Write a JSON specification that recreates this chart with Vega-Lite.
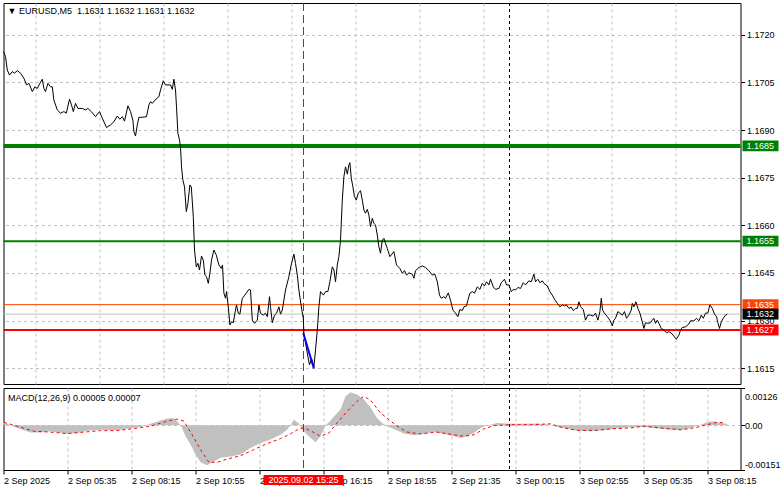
{
"$schema": "https://vega.github.io/schema/vega-lite/v6.json",
"background": "white",
"padding": {"left": 0.5, "top": 2, "right": 0, "bottom": 0},
"spacing": 2,
"config": {
  "view": {"stroke": "black", "strokeWidth": 1},
  "font": "Liberation Sans",
  "axis": {"labelFont": "Liberation Sans", "labelFontSize": 9, "labelColor": "black", "labelFontWeight": "normal", "tickColor": "black", "gridColor": "#C0C0C0", "gridDash": [3, 3], "gridWidth": 1, "gridOpacity": 1, "domain": false, "title": null}
},
"datasets": {
  "price": [
{"i":0,"p":1.17147},{"i":1,"p":1.17131},{"i":1.9,"p":1.17089},{"i":3,"p":1.17073},{"i":4.4,"p":1.17084},{"i":5.5,"p":1.17079},{"i":6.9,"p":1.17087},{"i":8.5,"p":1.17079},{"i":10.2,"p":1.17063},{"i":11.5,"p":1.17042},{"i":12.7,"p":1.17047},{"i":14.4,"p":1.17021},{"i":15.7,"p":1.17036},{"i":16.9,"p":1.17031},{"i":18.2,"p":1.17047},{"i":19.4,"p":1.1706},{"i":20.2,"p":1.17031},{"i":21,"p":1.17021},{"i":22.2,"p":1.17047},{"i":23.5,"p":1.17036},{"i":24.4,"p":1.17036},{"i":25.2,"p":1.16994},{"i":26.9,"p":1.16963},{"i":28.5,"p":1.16953},{"i":30.2,"p":1.16958},{"i":31.4,"p":1.16953},{"i":33,"p":1.16997},{"i":34,"p":1.16979},{"i":34.9,"p":1.16958},{"i":36,"p":1.16984},{"i":37.2,"p":1.16968},{"i":39.4,"p":1.16968},{"i":41,"p":1.16963},{"i":42.2,"p":1.16968},{"i":43.9,"p":1.16958},{"i":46,"p":1.16942},{"i":48,"p":1.16958},{"i":49.4,"p":1.16937},{"i":51.5,"p":1.16908},{"i":53.5,"p":1.16916},{"i":55.2,"p":1.16926},{"i":56.9,"p":1.16944},{"i":58.2,"p":1.16934},{"i":59.4,"p":1.16942},{"i":60.5,"p":1.16928},{"i":62.2,"p":1.16976},{"i":63.5,"p":1.16958},{"i":64.7,"p":1.16931},{"i":65.2,"p":1.16895},{"i":66,"p":1.16881},{"i":66.9,"p":1.16916},{"i":67.7,"p":1.1694},{"i":69.4,"p":1.1694},{"i":71.5,"p":1.16942},{"i":72.7,"p":1.16979},{"i":73.5,"p":1.16989},{"i":74.4,"p":1.16984},{"i":75.7,"p":1.16994},{"i":77.7,"p":1.17005},{"i":78.5,"p":1.17026},{"i":79.9,"p":1.17055},{"i":81,"p":1.17042},{"i":83.5,"p":1.17042},{"i":84.4,"p":1.17028},{"i":85.2,"p":1.1706},{"i":86,"p":1.17026},{"i":86.5,"p":1.16973},{"i":87.2,"p":1.1689},{"i":88,"p":1.16868},{"i":88.5,"p":1.16847},{"i":89,"p":1.16784},{"i":89.7,"p":1.16742},{"i":90.5,"p":1.16721},{"i":91.4,"p":1.16643},{"i":92.2,"p":1.16669},{"i":93.2,"p":1.16727},{"i":93.9,"p":1.16721},{"i":94.9,"p":1.16627},{"i":95.5,"p":1.16522},{"i":96.4,"p":1.16469},{"i":97.2,"p":1.1648},{"i":98,"p":1.16459},{"i":99,"p":1.16503},{"i":99.9,"p":1.1649},{"i":100.7,"p":1.16443},{"i":101.5,"p":1.16438},{"i":102.4,"p":1.16417},{"i":103.2,"p":1.16449},{"i":104,"p":1.1649},{"i":105.2,"p":1.16522},{"i":106.4,"p":1.16506},{"i":107.7,"p":1.16475},{"i":108.9,"p":1.16464},{"i":109.5,"p":1.16475},{"i":110.2,"p":1.16386},{"i":111,"p":1.1637},{"i":111.5,"p":1.16391},{"i":112.4,"p":1.16343},{"i":113.2,"p":1.16286},{"i":114,"p":1.16296},{"i":114.9,"p":1.16293},{"i":115.7,"p":1.16323},{"i":116.5,"p":1.16349},{"i":117.4,"p":1.16323},{"i":118.2,"p":1.1632},{"i":119.4,"p":1.1637},{"i":120.7,"p":1.1638},{"i":122.7,"p":1.16398},{"i":123.5,"p":1.16396},{"i":124.4,"p":1.16301},{"i":125.5,"p":1.16291},{"i":126.9,"p":1.16301},{"i":127.7,"p":1.16349},{"i":128.5,"p":1.16323},{"i":129.9,"p":1.16317},{"i":131,"p":1.16323},{"i":131.9,"p":1.16312},{"i":133,"p":1.16375},{"i":133.5,"p":1.16343},{"i":134.4,"p":1.16293},{"i":135.5,"p":1.16317},{"i":136.5,"p":1.16323},{"i":137.7,"p":1.16343},{"i":138.5,"p":1.1632},{"i":139.4,"p":1.16333},{"i":141,"p":1.16396},{"i":142.7,"p":1.16438},{"i":144,"p":1.1648},{"i":145.2,"p":1.16509},{"i":146,"p":1.1648},{"i":146.9,"p":1.16443},{"i":147.7,"p":1.16396},{"i":148.9,"p":1.16343},{"i":149.9,"p":1.16307},{"i":150.2,"p":1.1626},{"i":152.2,"p":1.16186},{"i":153,"p":1.1616},{"i":154,"p":1.16181},{"i":155.2,"p":1.16154},{"i":156,"p":1.16207},{"i":156.9,"p":1.1627},{"i":157.7,"p":1.16343},{"i":158.5,"p":1.16391},{"i":159.9,"p":1.1638},{"i":161,"p":1.16391},{"i":162.2,"p":1.16391},{"i":163.2,"p":1.16422},{"i":164.4,"p":1.16469},{"i":165.2,"p":1.16459},{"i":166,"p":1.16422},{"i":166.9,"p":1.16475},{"i":167.7,"p":1.16501},{"i":168.5,"p":1.16553},{"i":169.4,"p":1.16679},{"i":170.2,"p":1.16753},{"i":171,"p":1.16784},{"i":171.9,"p":1.16761},{"i":172.7,"p":1.1679},{"i":173.2,"p":1.16797},{"i":173.9,"p":1.16748},{"i":174.7,"p":1.16721},{"i":175.5,"p":1.1669},{"i":176.4,"p":1.16679},{"i":177.4,"p":1.16701},{"i":178.5,"p":1.16709},{"i":179.4,"p":1.16679},{"i":180.2,"p":1.16648},{"i":181,"p":1.16638},{"i":181.9,"p":1.1665},{"i":182.7,"p":1.16632},{"i":183.5,"p":1.16595},{"i":184.4,"p":1.16622},{"i":185.2,"p":1.16606},{"i":186,"p":1.16601},{"i":186.9,"p":1.16569},{"i":187.7,"p":1.16532},{"i":188.5,"p":1.16512},{"i":189.4,"p":1.16553},{"i":190.2,"p":1.16559},{"i":191,"p":1.16543},{"i":191.9,"p":1.16527},{"i":193.2,"p":1.16501},{"i":195.2,"p":1.16517},{"i":196.5,"p":1.16475},{"i":198.2,"p":1.16464},{"i":199.4,"p":1.16449},{"i":200.5,"p":1.16457},{"i":201.5,"p":1.16443},{"i":202.7,"p":1.1645},{"i":204.4,"p":1.16446},{"i":205.2,"p":1.16433},{"i":206,"p":1.16457},{"i":207.7,"p":1.16467},{"i":209.4,"p":1.16472},{"i":211,"p":1.16467},{"i":212.7,"p":1.16457},{"i":214.4,"p":1.16443},{"i":215.7,"p":1.16446},{"i":216.9,"p":1.16422},{"i":218,"p":1.1638},{"i":218.9,"p":1.1637},{"i":220.2,"p":1.16375},{"i":221,"p":1.1637},{"i":222.4,"p":1.16387},{"i":223.5,"p":1.16364},{"i":224.7,"p":1.16333},{"i":226,"p":1.16323},{"i":227.2,"p":1.16312},{"i":228.2,"p":1.16335},{"i":229.4,"p":1.16331},{"i":230.2,"p":1.16343},{"i":231.5,"p":1.16346},{"i":232.2,"p":1.16364},{"i":233.2,"p":1.16386},{"i":234.4,"p":1.16391},{"i":235.5,"p":1.16386},{"i":236.9,"p":1.16406},{"i":238.2,"p":1.16398},{"i":239.4,"p":1.16417},{"i":240.5,"p":1.16409},{"i":241.5,"p":1.16422},{"i":242.7,"p":1.16412},{"i":243.5,"p":1.1643},{"i":244.9,"p":1.16406},{"i":246,"p":1.16398},{"i":247.7,"p":1.16401},{"i":248.9,"p":1.16419},{"i":250.5,"p":1.1643},{"i":251.5,"p":1.16412},{"i":252.7,"p":1.16412},{"i":253.9,"p":1.16391},{"i":254.9,"p":1.16398},{"i":256,"p":1.16396},{"i":257.2,"p":1.16404},{"i":258.5,"p":1.16401},{"i":259.9,"p":1.16419},{"i":261,"p":1.16412},{"i":262.7,"p":1.16425},{"i":263.9,"p":1.16422},{"i":265.2,"p":1.16446},{"i":266,"p":1.16422},{"i":267.2,"p":1.1643},{"i":268.2,"p":1.16419},{"i":269.4,"p":1.16425},{"i":270.2,"p":1.16417},{"i":271.9,"p":1.16409},{"i":273.2,"p":1.16391},{"i":274.4,"p":1.1638},{"i":275.5,"p":1.16367},{"i":276.9,"p":1.16354},{"i":278.2,"p":1.16343},{"i":279.4,"p":1.16349},{"i":280.5,"p":1.16346},{"i":281.5,"p":1.16349},{"i":282.7,"p":1.16338},{"i":283.9,"p":1.16342},{"i":284.9,"p":1.16331},{"i":286,"p":1.16338},{"i":286.9,"p":1.16338},{"i":287.7,"p":1.16359},{"i":288.5,"p":1.16343},{"i":289.9,"p":1.16335},{"i":291,"p":1.16301},{"i":292.2,"p":1.16317},{"i":293.5,"p":1.16317},{"i":294.9,"p":1.16314},{"i":296,"p":1.16323},{"i":297.2,"p":1.16301},{"i":298.2,"p":1.16328},{"i":298.9,"p":1.1637},{"i":299.5,"p":1.16333},{"i":300.5,"p":1.16323},{"i":301.9,"p":1.16312},{"i":303.2,"p":1.16301},{"i":304.4,"p":1.16283},{"i":305.2,"p":1.16301},{"i":306,"p":1.16307},{"i":307.2,"p":1.16328},{"i":308.2,"p":1.16323},{"i":309.4,"p":1.16317},{"i":310.5,"p":1.16328},{"i":311.5,"p":1.16307},{"i":312.7,"p":1.16317},{"i":313.9,"p":1.16333},{"i":314.4,"p":1.16354},{"i":315.2,"p":1.16343},{"i":316.2,"p":1.16359},{"i":317.2,"p":1.16338},{"i":318.2,"p":1.16323},{"i":319.4,"p":1.16296},{"i":320.2,"p":1.16275},{"i":321,"p":1.16293},{"i":322.2,"p":1.16291},{"i":323.5,"p":1.16293},{"i":324.4,"p":1.16301},{"i":325.2,"p":1.16307},{"i":326,"p":1.16291},{"i":326.9,"p":1.16301},{"i":327.7,"p":1.16291},{"i":328.9,"p":1.16275},{"i":330.2,"p":1.1627},{"i":331.5,"p":1.16261},{"i":332.7,"p":1.16265},{"i":333.9,"p":1.1626},{"i":335.2,"p":1.16251},{"i":336.4,"p":1.16241},{"i":337.7,"p":1.16254},{"i":338.5,"p":1.1627},{"i":339.4,"p":1.16278},{"i":341,"p":1.1628},{"i":342.7,"p":1.16289},{"i":343.5,"p":1.16299},{"i":345.2,"p":1.16299},{"i":346.5,"p":1.16307},{"i":347.7,"p":1.16299},{"i":348.9,"p":1.16317},{"i":349.9,"p":1.16307},{"i":351,"p":1.16323},{"i":352.2,"p":1.16324},{"i":353.2,"p":1.16349},{"i":354.4,"p":1.16338},{"i":355.5,"p":1.1632},{"i":356.5,"p":1.16312},{"i":357.2,"p":1.16293},{"i":358,"p":1.16275},{"i":358.9,"p":1.16296},{"i":359.9,"p":1.16307},{"i":361,"p":1.16317},{"i":361.9,"p":1.1632}
  ],
  "trend": [{"i":149.9,"p":1.1626},{"i":155.2,"p":1.16149}],
  "levels": [
    {"name":"buy2","level":1.1685},
    {"name":"buy1","level":1.1655},
    {"name":"sell1","level":1.1635},
    {"name":"bid","level":1.1632},
    {"name":"sell2","level":1.1627}
  ],
  "markers": [
    {"name":"cursor","i":150,"label":"2025.09.02 15:25"},
    {"name":"day","i":253,"label":"3 Sep 00:00"}
  ],
  "headers": [
    {"panel":"price","i":2,"v":1.17275,"text":"▼ EURUSD,M5\u00a0 1.1631 1.1632 1.1631 1.1632"},
    {"panel":"macd","i":2.2,"v":0.00093,"text":"MACD(12,26,9) 0.00005 0.00007"}
  ],
  "macd": [
{"i":0,"m":0.0001},{"i":3.5,"m":0},{"i":6.8,"m":-0.00009},{"i":13.5,"m":-0.00024},{"i":18.5,"m":-0.00024},{"i":23.5,"m":-0.0002},{"i":31.8,"m":-0.00029},{"i":36.8,"m":-0.00026},{"i":41.8,"m":-0.00018},{"i":48.5,"m":-0.00015},{"i":56.8,"m":-0.00017},{"i":61.8,"m":-0.00012},{"i":68.5,"m":-0.00006},{"i":73.5,"m":0.00005},{"i":78.5,"m":0.00016},{"i":81.8,"m":0.00023},{"i":85.2,"m":0.00024},{"i":87.7,"m":0.00008},{"i":89.3,"m":-0.00009},{"i":91,"m":-0.00037},{"i":93.5,"m":-0.00065},{"i":96,"m":-0.00099},{"i":98.5,"m":-0.00125},{"i":101.8,"m":-0.00135},{"i":105.2,"m":-0.00122},{"i":108.5,"m":-0.0011},{"i":113.5,"m":-0.00105},{"i":118.5,"m":-0.00099},{"i":123.5,"m":-0.00077},{"i":128.5,"m":-0.0006},{"i":133.5,"m":-0.00048},{"i":138.5,"m":-0.00032},{"i":141.8,"m":-0.00015},{"i":143.5,"m":0},{"i":145.2,"m":0.00019},{"i":147.7,"m":0.00006},{"i":149.3,"m":-0.00015},{"i":152.7,"m":-0.00037},{"i":156,"m":-0.00057},{"i":158.5,"m":-0.00037},{"i":161,"m":0},{"i":162.7,"m":0.0001},{"i":165.2,"m":0.0003},{"i":168.5,"m":0.00053},{"i":171,"m":0.00098},{"i":173.5,"m":0.00112},{"i":176.8,"m":0.00104},{"i":180.2,"m":0.00087},{"i":183.5,"m":0.0006},{"i":186.8,"m":0.00025},{"i":189.3,"m":0.00008},{"i":191.8,"m":-0.00003},{"i":196,"m":-0.00015},{"i":200.2,"m":-0.00028},{"i":205.2,"m":-0.00034},{"i":210.2,"m":-0.00029},{"i":215.2,"m":-0.00023},{"i":220.2,"m":-0.00029},{"i":225.2,"m":-0.00037},{"i":228.5,"m":-0.00043},{"i":231.8,"m":-0.00037},{"i":235.2,"m":-0.00026},{"i":238.5,"m":-0.00009},{"i":241.8,"m":-0.00001},{"i":246.8,"m":0.00008},{"i":253.5,"m":0.00005},{"i":260.2,"m":0.00005},{"i":266.8,"m":0.00006},{"i":273.5,"m":0.00002},{"i":276.8,"m":-0.00006},{"i":281.8,"m":-0.00012},{"i":286.8,"m":-0.00018},{"i":293.5,"m":-0.0002},{"i":300.2,"m":-0.00017},{"i":306.8,"m":-0.00011},{"i":313.5,"m":-0.00007},{"i":320.2,"m":-0.00006},{"i":326.8,"m":-0.00011},{"i":333.5,"m":-0.00015},{"i":338.5,"m":-0.00017},{"i":343.5,"m":-0.00009},{"i":348.5,"m":0.00002},{"i":351.8,"m":0.0001},{"i":355.2,"m":0.00014},{"i":358.5,"m":0.00008},{"i":361.8,"m":0.00005}
  ],
  "signal": [
{"i":0.2,"s":0.0001},{"i":6.8,"s":-0.00003},{"i":15.2,"s":-0.0002},{"i":23.5,"s":-0.00023},{"i":31.8,"s":-0.00028},{"i":40.2,"s":-0.00023},{"i":48.5,"s":-0.00018},{"i":56.8,"s":-0.00018},{"i":65.2,"s":-0.00011},{"i":73.5,"s":-0.00003},{"i":81.8,"s":0.00014},{"i":86.8,"s":0.00021},{"i":90.2,"s":0.00014},{"i":94.3,"s":-0.00032},{"i":98.5,"s":-0.00082},{"i":102.7,"s":-0.00125},{"i":106.8,"s":-0.00125},{"i":111.8,"s":-0.00114},{"i":118.5,"s":-0.00103},{"i":125.2,"s":-0.00082},{"i":131.8,"s":-0.00062},{"i":138.5,"s":-0.00045},{"i":143.5,"s":-0.00029},{"i":147.7,"s":-0.00012},{"i":150.2,"s":-0.00009},{"i":153.5,"s":-0.00018},{"i":158.5,"s":-0.00037},{"i":162.7,"s":-0.00026},{"i":166.8,"s":0.00008},{"i":171.8,"s":0.00047},{"i":176.8,"s":0.00081},{"i":180.2,"s":0.00098},{"i":183.5,"s":0.00085},{"i":188.5,"s":0.00042},{"i":192.7,"s":0.00019},{"i":196.8,"s":-0.00003},{"i":201.8,"s":-0.00023},{"i":208.5,"s":-0.00029},{"i":216.8,"s":-0.00023},{"i":225.2,"s":-0.00032},{"i":230.2,"s":-0.00037},{"i":235.2,"s":-0.00032},{"i":240.2,"s":-0.00012},{"i":245.2,"s":-0.00001},{"i":253.5,"s":0.00002},{"i":263.5,"s":0.00002},{"i":273.5,"s":0.00005},{"i":280.2,"s":-0.00009},{"i":286.8,"s":-0.00017},{"i":296.8,"s":-0.00017},{"i":303.5,"s":-0.00012},{"i":313.5,"s":-0.00009},{"i":320.2,"s":-0.00003},{"i":328.5,"s":-0.00009},{"i":338.5,"s":-0.00015},{"i":345.2,"s":-0.00009},{"i":351.8,"s":0.00002},{"i":356.8,"s":0.0001},{"i":361,"s":0.00008}
  ]
},
"vconcat": [
  {
    "width": 737,
    "height": 381,
    "layer": [
      {
        "data": {"name": "price"},
        "mark": {"type": "line", "color": "black", "strokeWidth": 1, "opacity": 0},
        "encoding": {
          "x": {"field": "i", "type": "quantitative", "scale": {"domain": [0, 368.5], "nice": false, "zero": false},
                "axis": {"values": [16,32,48,64,80,96,112,128,144,160,176,192,208,224,240,256,272,288,304,320,336,352], "labels": false, "ticks": false, "tickSize": 0, "labelPadding": 0, "minExtent": 0, "maxExtent": 0, "grid": true}},
          "y": {"field": "p", "type": "quantitative", "scale": {"domain": [1.161, 1.173], "nice": false, "zero": false},
                "axis": {"orient": "right", "values": [1.1615,1.163,1.1645,1.166,1.1675,1.169,1.1705,1.172], "format": ".4f", "tickSize": 4, "labelPadding": 2, "grid": true, "labelOverlap": false}}
        }
      },
      {
        "data": {"name": "levels"},
        "transform": [{"filter": "datum.name === 'sell1' || datum.name === 'bid'"}],
        "mark": {"type": "rule", "strokeWidth": 1},
        "encoding": {
          "y": {"field": "level", "type": "quantitative"},
          "stroke": {"field": "name", "type": "nominal", "scale": {"domain": ["buy2","buy1","sell1","bid","sell2"], "range": ["#008000","#008000","#FF4500","#C0C0C0","#FF0000"]}, "legend": null}
        }
      },
      {
        "data": {"name": "levels"},
        "transform": [{"filter": "datum.name === 'buy1' || datum.name === 'sell2'"}],
        "mark": {"type": "rule", "strokeWidth": 2},
        "encoding": {
          "y": {"field": "level", "type": "quantitative"},
          "stroke": {"field": "name", "type": "nominal", "legend": null}
        }
      },
      {
        "data": {"name": "levels"},
        "transform": [{"filter": "datum.name === 'buy2'"}],
        "mark": {"type": "rule", "strokeWidth": 4},
        "encoding": {
          "y": {"field": "level", "type": "quantitative"},
          "stroke": {"field": "name", "type": "nominal", "legend": null}
        }
      },
      {
        "data": {"name": "markers"},
        "transform": [{"filter": "datum.name === 'cursor'"}],
        "mark": {"type": "rule", "color": "#FF0000", "strokeWidth": 1, "strokeDash": [8, 4]},
        "encoding": {"x": {"field": "i", "type": "quantitative"}}
      },
      {
        "data": {"name": "markers"},
        "transform": [{"filter": "datum.name === 'day'"}],
        "mark": {"type": "rule", "color": "black", "strokeWidth": 1, "strokeDash": [3, 3]},
        "encoding": {"x": {"field": "i", "type": "quantitative"}}
      },
      {
        "data": {"name": "price"},
        "mark": {"type": "line", "color": "black", "strokeWidth": 1},
        "encoding": {
          "x": {"field": "i", "type": "quantitative"},
          "y": {"field": "p", "type": "quantitative"}
        }
      },
      {
        "data": {"name": "trend"},
        "mark": {"type": "line", "color": "#0000FF", "strokeWidth": 2},
        "encoding": {
          "x": {"field": "i", "type": "quantitative"},
          "y": {"field": "p", "type": "quantitative"}
        }
      },
      {
        "data": {"name": "headers"},
        "transform": [{"filter": "datum.panel === 'price'"}],
        "mark": {"type": "text", "align": "left", "baseline": "middle", "color": "black", "fontSize": 9, "font": "Liberation Sans"},
        "encoding": {
          "x": {"field": "i", "type": "quantitative"},
          "y": {"field": "v", "type": "quantitative"},
          "text": {"field": "text", "type": "nominal"}
        }
      },
      {
        "data": {"name": "levels"},
        "mark": {"type": "point", "shape": "M-1,-0.3L1,-0.3L1,0.3L-1,0.3Z", "size": 1296, "filled": true, "opacity": 1, "strokeWidth": 0, "xOffset": 20},
        "encoding": {
          "x": {"value": "width"},
          "y": {"field": "level", "type": "quantitative"},
          "fill": {"field": "name", "type": "nominal", "scale": {"domain": ["buy2","buy1","sell1","bid","sell2"], "range": ["#008000","#008000","#FF4500","#000000","#FF0000"]}, "legend": null}
        }
      },
      {
        "data": {"name": "levels"},
        "mark": {"type": "text", "align": "left", "baseline": "middle", "color": "white", "fontSize": 9, "font": "Liberation Sans", "xOffset": 6},
        "encoding": {
          "x": {"value": "width"},
          "y": {"field": "level", "type": "quantitative"},
          "text": {"field": "level", "type": "quantitative", "format": ".4f"}
        }
      }
    ]
  },
  {
    "width": 737,
    "height": 82,
    "layer": [
      {
        "data": {"name": "macd"},
        "mark": {"type": "area", "color": "#C0C0C0", "opacity": 1},
        "encoding": {
          "x": {"field": "i", "type": "quantitative", "scale": {"domain": [0, 368.5], "nice": false, "zero": false},
                "axis": {"values": [0,16,32,48,64,80,96,112,128,144,160,176,192,208,224,240,256,272,288,304,320,336,352],
                         "grid": true,
                         "gridOpacity": {"condition": {"test": "datum.value > 0", "value": 1}, "value": 0},
                         "labelExpr": "datum.value % 32 === 0 ? ['2 Sep 2025','2 Sep 05:35','2 Sep 08:15','2 Sep 10:55','2 Sep 13:35','2 Sep 16:15','2 Sep 18:55','2 Sep 21:35','3 Sep 00:15','3 Sep 02:55','3 Sep 05:35','3 Sep 08:15'][datum.value / 32] : ''",
                         "labelAlign": "left", "labelFlush": false, "labelOverlap": false, "labelBound": false,
                         "tickSize": {"condition": {"test": "datum.value % 32 === 0", "value": 4}, "value": 0},
                         "labelPadding": 2}},
          "y": {"field": "m", "type": "quantitative", "scale": {"domain": [-0.00151, 0.00126], "nice": false, "zero": false},
                "axis": {"orient": "right", "values": [-0.00151, 0, 0.00126],
                         "labelExpr": "datum.value === 0 ? '0.00' : (datum.value < 0 ? '-' + format(-datum.value, '.5f') : format(datum.value, '.5f'))",
                         "tickSize": 4, "labelPadding": 0, "labelFlush": false, "labelBaseline": "middle", "labelOverlap": false,
                         "labelOffset": {"condition": [{"test": "datum.value > 0.0001", "value": 8}, {"test": "datum.value < -0.0001", "value": -6}], "value": 0},
                         "grid": true, "gridOpacity": {"condition": {"test": "datum.value === 0", "value": 1}, "value": 0}}},
          "y2": {"datum": 0}
        }
      },
      {
        "data": {"name": "signal"},
        "mark": {"type": "line", "color": "#FF0000", "strokeWidth": 1, "strokeDash": [3, 3]},
        "encoding": {
          "x": {"field": "i", "type": "quantitative"},
          "y": {"field": "s", "type": "quantitative"}
        }
      },
      {
        "data": {"name": "markers"},
        "transform": [{"filter": "datum.name === 'cursor'"}],
        "mark": {"type": "rule", "color": "#FF0000", "strokeWidth": 1, "strokeDash": [8, 4]},
        "encoding": {"x": {"field": "i", "type": "quantitative"}}
      },
      {
        "data": {"name": "markers"},
        "transform": [{"filter": "datum.name === 'day'"}],
        "mark": {"type": "rule", "color": "black", "strokeWidth": 1, "strokeDash": [3, 3]},
        "encoding": {"x": {"field": "i", "type": "quantitative"}}
      },
      {
        "data": {"name": "headers"},
        "transform": [{"filter": "datum.panel === 'macd'"}],
        "mark": {"type": "text", "align": "left", "baseline": "middle", "color": "black", "fontSize": 9, "font": "Liberation Sans"},
        "encoding": {
          "x": {"field": "i", "type": "quantitative"},
          "y": {"field": "v", "type": "quantitative"},
          "text": {"field": "text", "type": "nominal"}
        }
      },
      {
        "data": {"name": "markers"},
        "transform": [{"filter": "datum.name === 'cursor'"}],
        "mark": {"type": "point", "shape": "M-1,-0.125L1,-0.125L1,0.125L-1,0.125Z", "size": 6400, "filled": true, "opacity": 1, "strokeWidth": 0, "color": "#FF0000", "yOffset": 10},
        "encoding": {
          "x": {"field": "i", "type": "quantitative"},
          "y": {"value": "height"}
        }
      },
      {
        "data": {"name": "markers"},
        "transform": [{"filter": "datum.name === 'cursor'"}],
        "mark": {"type": "text", "align": "center", "baseline": "middle", "color": "white", "fontSize": 9, "font": "Liberation Sans", "yOffset": 10},
        "encoding": {
          "x": {"field": "i", "type": "quantitative"},
          "y": {"value": "height"},
          "text": {"field": "label", "type": "nominal"}
        }
      }
    ]
  }
]
}
